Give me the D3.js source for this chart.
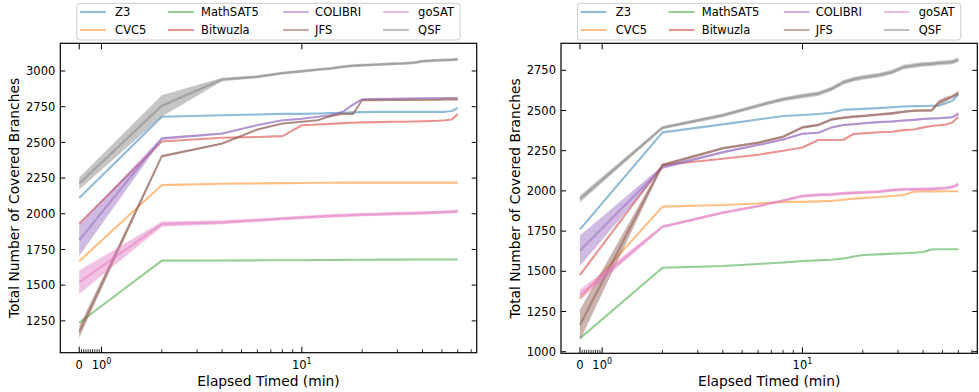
<!DOCTYPE html>
<html lang="en">
<head>
<meta charset="utf-8">
<title>Covered branches over time</title>
<script src="https://d3js.org/d3.v7.min.js"></script>
<style>
body { margin: 0; background: #fff; }
text { font-family: "DejaVu Sans", sans-serif; fill: #000; }
</style>
</head>
<body>
<script>
// sample times (minutes)
var times = [0, 2, 4, 6, 8, 10, 12, 14, 16, 18, 20, 24, 28, 32, 36, 40, 44, 48, 52, 56, 60];
var solvers = ["Z3", "CVC5", "MathSAT5", "Bitwuzla", "COLIBRI", "JFS", "goSAT", "QSF"];
var colors = ["#1f77b4", "#ff7f0e", "#2ca02c", "#d62728", "#9467bd", "#8c564b", "#e377c2", "#7f7f7f"];

// left panel
var leftZ3       = [2110, 2680, 2690, 2695, 2700, 2700, 2702, 2705, 2708, 2710, 2712, 2714, 2714, 2714, 2714, 2714, 2714, 2714, 2714, 2720, 2742];
var leftCVC5     = [1668, 2201, 2210, 2213, 2215, 2216, 2217, 2217, 2218, 2218, 2218, 2218, 2218, 2218, 2218, 2218, 2218, 2218, 2218, 2218, 2218];
var leftMathSAT5 = [1237, 1672, 1673, 1674, 1675, 1675, 1676, 1676, 1677, 1678, 1678, 1679, 1679, 1679, 1680, 1680, 1680, 1680, 1680, 1680, 1680];
var leftBitwuzla = [1932, 2506, 2532, 2538, 2544, 2620, 2625, 2630, 2635, 2638, 2640, 2642, 2645, 2645, 2646, 2648, 2650, 2652, 2655, 2660, 2698];
var leftCOLIBRI  = [1816, 2527, 2562, 2621, 2655, 2665, 2679, 2690, 2714, 2765, 2802, 2805, 2806, 2807, 2808, 2809, 2810, 2810, 2811, 2811, 2812];
var leftJFS      = [1172, 2403, 2492, 2590, 2632, 2645, 2655, 2685, 2700, 2700, 2795, 2796, 2797, 2797, 2798, 2798, 2799, 2799, 2800, 2800, 2800];
var leftGoSAT    = [1520, 1928, 1940, 1955, 1966, 1974, 1980, 1985, 1988, 1991, 1994, 1997, 2000, 2002, 2004, 2006, 2008, 2010, 2012, 2014, 2018];
var leftQSF      = [2212, 2756, 2940, 2960, 2985, 2998, 3010, 3018, 3030, 3037, 3040, 3045, 3050, 3053, 3058, 3068, 3072, 3075, 3077, 3078, 3083];

// right panel
var rightZ3       = [1761, 2364, 2414, 2444, 2466, 2472, 2478, 2486, 2505, 2507, 2510, 2515, 2520, 2525, 2527, 2528, 2530, 2530, 2545, 2560, 2600];
var rightCVC5     = [1332, 1902, 1912, 1922, 1932, 1932, 1935, 1938, 1945, 1952, 1955, 1962, 1968, 1975, 1995, 1996, 1997, 1997, 1998, 1998, 1998];
var rightMathSAT5 = [1083, 1522, 1533, 1545, 1555, 1564, 1568, 1572, 1580, 1592, 1601, 1605, 1610, 1612, 1615, 1620, 1636, 1637, 1637, 1637, 1637];
var rightBitwuzla = [1477, 2161, 2200, 2225, 2250, 2270, 2317, 2317, 2318, 2354, 2358, 2365, 2368, 2378, 2382, 2395, 2404, 2408, 2413, 2425, 2461];
var rightCOLIBRI  = [1628, 2147, 2240, 2285, 2320, 2355, 2362, 2395, 2410, 2415, 2420, 2428, 2432, 2438, 2442, 2447, 2450, 2452, 2455, 2458, 2480];
var rightJFS      = [1166, 2161, 2265, 2300, 2337, 2395, 2410, 2445, 2455, 2462, 2466, 2475, 2482, 2492, 2499, 2500, 2500, 2550, 2570, 2586, 2610];
var rightGoSAT    = [1353, 1777, 1865, 1905, 1940, 1968, 1975, 1978, 1985, 1988, 1990, 1995, 2005, 2010, 2010, 2011, 2012, 2015, 2018, 2025, 2040];
var rightQSF      = [1950, 2393, 2470, 2530, 2570, 2590, 2605, 2635, 2675, 2695, 2705, 2720, 2740, 2770, 2780, 2787, 2790, 2795, 2798, 2802, 2815];

// spread (half width of shaded band) for the solvers that show one
var leftCOLIBRIBand = [110, 10, 6, 5, 5, 5, 5, 5, 5, 8, 6, 5, 5, 5, 5, 5, 5, 5, 5, 5, 5];
var leftJFSBand     = [40, 8, 6, 5, 5, 5, 5, 5, 5, 8, 5, 5, 5, 5, 5, 5, 5, 5, 5, 5, 5];
var leftGoSATBand   = [82, 18, 14, 12, 12, 12, 12, 12, 12, 12, 12, 12, 12, 12, 12, 12, 12, 12, 12, 12, 12];
var leftQSFBand     = [42, 75, 12, 10, 10, 10, 10, 10, 10, 10, 10, 10, 10, 10, 10, 10, 10, 10, 10, 10, 10];
var rightCOLIBRIBand = [95, 10, 8, 6, 6, 6, 6, 6, 6, 6, 6, 6, 6, 6, 6, 6, 6, 6, 6, 6, 10];
var rightJFSBand     = [95, 10, 8, 8, 8, 8, 8, 8, 8, 8, 8, 8, 8, 8, 8, 8, 8, 15, 15, 10, 15];
var rightGoSATBand   = [32, 10, 8, 8, 8, 10, 10, 10, 10, 10, 10, 10, 10, 10, 10, 10, 10, 10, 10, 10, 12];
var rightQSFBand     = [22, 10, 12, 12, 12, 14, 14, 14, 14, 14, 14, 14, 14, 14, 14, 14, 14, 14, 14, 14, 14];

var leftTicks = [1250, 1500, 1750, 2000, 2250, 2500, 2750, 3000];
var rightTicks = [1000, 1250, 1500, 1750, 2000, 2250, 2500, 2750];

var panels = [
  { x0: 60.3, x1: 476.7, y0: 43.3, y1: 352.7, yDomain: [1027, 3194], yTicks: leftTicks, labelX: 14,
    series: [leftZ3, leftCVC5, leftMathSAT5, leftBitwuzla, leftCOLIBRI, leftJFS, leftGoSAT, leftQSF],
    bands: [null, null, null, null, leftCOLIBRIBand, leftJFSBand, leftGoSATBand, leftQSFBand] },
  { x0: 561, x1: 977.3, y0: 43.3, y1: 353.3, yDomain: [990, 2918], yTicks: rightTicks, labelX: 515,
    series: [rightZ3, rightCVC5, rightMathSAT5, rightBitwuzla, rightCOLIBRI, rightJFS, rightGoSATBand && rightGoSAT, rightQSF],
    bands: [null, null, null, null, rightCOLIBRIBand, rightJFSBand, rightGoSATBand, rightQSFBand] }
];

// symlog-like transform: linear below 1 min, log above
var LIN = 0.1111;
function tr(v) { return v <= 1 ? v * LIN : LIN + Math.log10(v); }

var W = 979, H = 392;
var svg = d3.select("body").append("svg").attr("width", W).attr("height", H);

var majorX = [0, 1, 10];
var minorX = [0.1, 0.2, 0.3, 0.4, 0.5, 0.6, 0.7, 0.8, 0.9, 2, 3, 4, 5, 6, 7, 8, 9, 20, 30, 40, 50, 60, 70];

panels.forEach(function(p) {
  var x = d3.scaleLinear().domain([-0.0945, 1.9838]).range([p.x0, p.x1]);
  var y = d3.scaleLinear().domain(p.yDomain).range([p.y1, p.y0]);
  var g = svg.append("g");

  var area = d3.area()
    .x(function(d, i) { return x(tr(times[i])); })
    .y0(function(d) { return y(d[0]); })
    .y1(function(d) { return y(d[1]); });
  var line = d3.line()
    .x(function(d, i) { return x(tr(times[i])); })
    .y(function(d) { return y(d); });

  p.series.forEach(function(vals, k) {
    var band = p.bands[k];
    if (band) {
      g.append("path")
        .datum(vals.map(function(v, i) { return [v - band[i], v + band[i]]; }))
        .attr("d", area)
        .attr("fill", colors[k])
        .attr("fill-opacity", 0.45);
    }
    g.append("path")
      .datum(vals)
      .attr("d", line)
      .attr("fill", "none")
      .attr("stroke", colors[k])
      .attr("stroke-opacity", 0.5)
      .attr("stroke-width", 2.1)
      .attr("stroke-linejoin", "round");
  });

  // frame
  g.append("rect")
    .attr("x", p.x0).attr("y", p.y0)
    .attr("width", p.x1 - p.x0).attr("height", p.y1 - p.y0)
    .attr("fill", "none").attr("stroke", "#000").attr("stroke-width", 1.2);

  // y ticks (inward, both sides)
  p.yTicks.forEach(function(t) {
    var yy = y(t);
    g.append("line").attr("x1", p.x0).attr("x2", p.x0 + 5).attr("y1", yy).attr("y2", yy).attr("stroke", "#000");
    g.append("line").attr("x1", p.x1).attr("x2", p.x1 - 5).attr("y1", yy).attr("y2", yy).attr("stroke", "#000");
    g.append("text").attr("x", p.x0 - 5).attr("y", yy).attr("dy", "0.36em")
      .attr("text-anchor", "end").style("font-size", "11.5px").text(t);
  });

  // x ticks
  majorX.forEach(function(t) {
    var xx = x(tr(t));
    g.append("line").attr("x1", xx).attr("x2", xx).attr("y1", p.y1).attr("y2", p.y1 - 6).attr("stroke", "#000");
    g.append("line").attr("x1", xx).attr("x2", xx).attr("y1", p.y0).attr("y2", p.y0 + 6).attr("stroke", "#000");
    var lab = g.append("text").attr("x", xx).attr("y", p.y1 + 16)
      .attr("text-anchor", "middle").style("font-size", "11.5px");
    if (t === 0) {
      lab.text("0");
    } else {
      lab.append("tspan").text("10");
      lab.append("tspan").attr("dy", -5).style("font-size", "8px").text(t === 1 ? "0" : "1");
    }
  });
  minorX.forEach(function(t) {
    var xx = x(tr(t));
    g.append("line").attr("x1", xx).attr("x2", xx).attr("y1", p.y1).attr("y2", p.y1 - 3.5)
      .attr("stroke", "#000").attr("stroke-width", 0.8);
  });

  // axis labels
  var cx = (p.x0 + p.x1) / 2;
  g.append("text").attr("x", cx).attr("y", 386).attr("text-anchor", "middle")
    .style("font-size", "13.8px").text("Elapsed Timed (min)");
  g.append("text")
    .attr("transform", "translate(" + p.labelX + "," + ((p.y0 + p.y1) / 2) + ") rotate(-90)")
    .attr("dy", "0.36em").attr("text-anchor", "middle")
    .style("font-size", "13.8px").text("Total Number of Covered Branches");

  // legend
  var lx = cx - 191.7, ly = 3.3;
  var leg = g.append("g").attr("transform", "translate(" + lx + "," + ly + ")");
  leg.append("rect").attr("width", 383.3).attr("height", 36.7).attr("rx", 3)
    .attr("fill", "#fff").attr("fill-opacity", 0.8).attr("stroke", "#ccc");
  var colHandle = [3.3, 91.3, 206.3, 306.3];
  var colText = [38.3, 124.3, 238.3, 341.3];
  var rowY = [8.7, 26.7];
  solvers.forEach(function(name, k) {
    var c = Math.floor(k / 2), r = k % 2;
    leg.append("line").attr("x1", colHandle[c]).attr("x2", colHandle[c] + 25.7)
      .attr("y1", rowY[r]).attr("y2", rowY[r])
      .attr("stroke", colors[k]).attr("stroke-opacity", 0.5).attr("stroke-width", 2.1);
    leg.append("text").attr("x", colText[c]).attr("y", rowY[r]).attr("dy", "0.36em")
      .style("font-size", "11.5px").text(name);
  });
});
</script>
</body>
</html>
